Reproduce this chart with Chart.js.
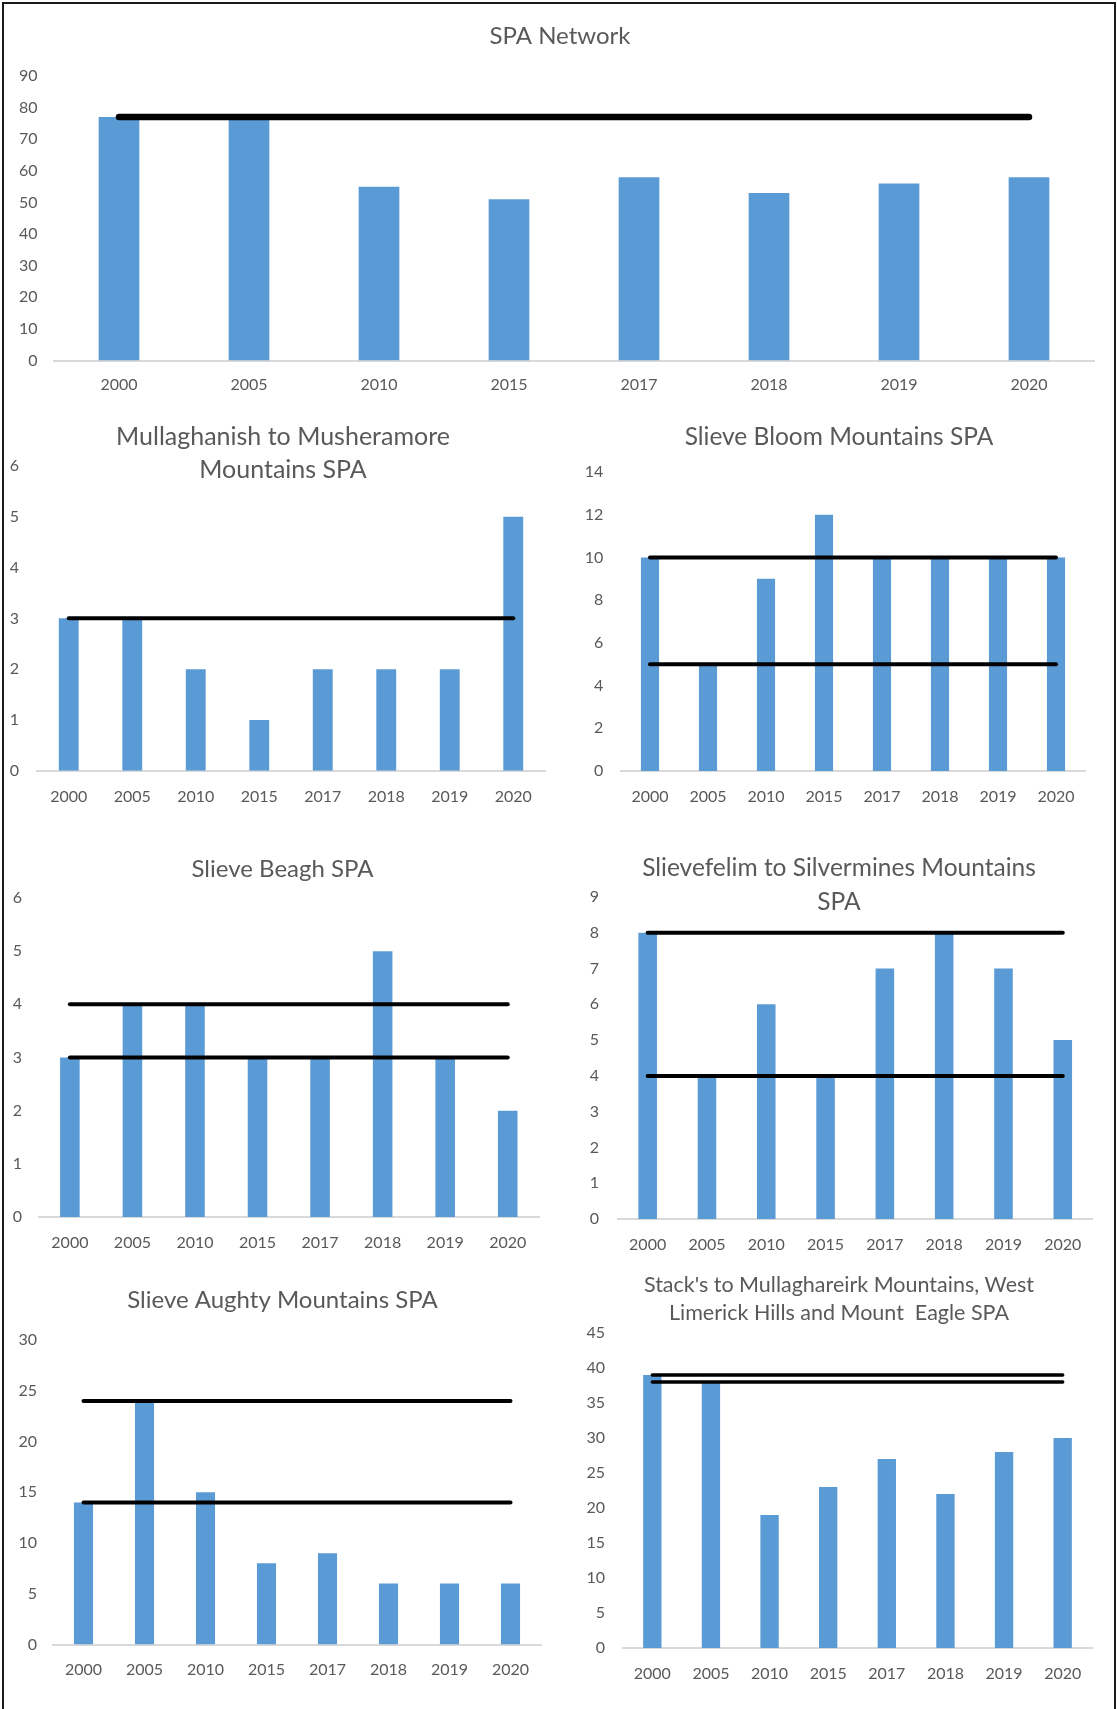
<!DOCTYPE html>
<html>
<head>
<meta charset="utf-8">
<title>SPA Network</title>
<script src="https://cdn.jsdelivr.net/npm/chart.js@4.4.1/dist/chart.umd.min.js"></script>
<style>
  html, body { margin: 0; padding: 0; background: #ffffff; }
  body { width: 1117px; height: 1709px; position: relative; overflow: hidden; }
  #frame {
    position: absolute; left: 2px; top: 2px; width: 1110px; height: 1720px;
    border-left: 2px solid #1a1a1a; border-top: 2px solid #1a1a1a; border-right: 2px solid #1a1a1a;
  }
  canvas { position: absolute; }
</style>
</head>
<body>
<div id="frame"></div>

<script>
// Survey years shared by every panel
const years = ['2000', '2005', '2010', '2015', '2017', '2018', '2019', '2020'];

// Counts per site, one value per survey year
const spaNetwork   = [77, 77, 55, 51, 58, 53, 56, 58];
const mullaghanish = [3, 3, 2, 1, 2, 2, 2, 5];
const slieveBloom  = [10, 5, 9, 12, 10, 10, 10, 10];
const slieveBeagh  = [3, 4, 4, 3, 3, 5, 3, 2];
const slievefelim  = [8, 4, 6, 4, 7, 8, 7, 5];
const slieveAughty = [14, 24, 15, 8, 9, 6, 6, 6];
const stacks       = [39, 38, 19, 23, 27, 22, 28, 30];

// Reference levels drawn as horizontal black lines
const spaNetworkLines   = [77];
const mullaghanishLines = [3];
const slieveBloomLines  = [10, 5];
const slieveBeaghLines  = [4, 3];
const slievefelimLines  = [8, 4];
const slieveAughtyLines = [24, 14];
const stacksLines       = [39, 38];

// Value axis ranges (max, step)
const spaNetworkAxis   = [90, 10];
const mullaghanishAxis = [6, 1];
const slieveBloomAxis  = [14, 2];
const slieveBeaghAxis  = [6, 1];
const slievefelimAxis  = [9, 1];
const slieveAughtyAxis = [30, 5];
const stacksAxis       = [45, 5];

// Panel titles (one entry per line)
const spaNetworkTitle   = ['SPA Network'];
const mullaghanishTitle = ['Mullaghanish to Musheramore', 'Mountains SPA'];
const slieveBloomTitle  = ['Slieve Bloom Mountains SPA'];
const slieveBeaghTitle  = ['Slieve Beagh SPA'];
const slievefelimTitle  = ['Slievefelim to Silvermines Mountains', 'SPA'];
const slieveAughtyTitle = ['Slieve Aughty Mountains SPA'];
const stacksTitle       = ["Stack's to Mullaghareirk Mountains, West", 'Limerick Hills and Mount  Eagle SPA'];

const FONT = 'Lato, "Open Sans", sans-serif';
const TEXT = '#595959';
const BAR = '#5B9BD5';

// Page geometry of each panel: canvas left/top/height, plot box, title and label placement
const panels = [
  { values: spaNetwork, lines: spaNetworkLines, axis: spaNetworkAxis, title: spaNetworkTitle,
    left: 4, top: 4, height: 400, plotX: [54, 1094], plotY: [76, 360.5],
    titleX: 560, titleY: 36, titleSize: 24, titleLH: 33, yPad: 16.5, xLabelY: 385, lineW: 6.5 },
  { values: mullaghanish, lines: mullaghanishLines, axis: mullaghanishAxis, title: mullaghanishTitle,
    left: 4, top: 405, height: 425, plotX: [37, 545], plotY: [466, 770.7],
    titleX: 283, titleY: 437, titleSize: 25, titleLH: 33, yPad: 18, xLabelY: 797, lineW: 4 },
  { values: slieveBloom, lines: slieveBloomLines, axis: slieveBloomAxis, title: slieveBloomTitle,
    left: 578, top: 405, height: 425, plotX: [621, 1085], plotY: [472, 771],
    titleX: 839, titleY: 437, titleSize: 24.5, titleLH: 33, yPad: 17.6, xLabelY: 797, lineW: 4 },
  { values: slieveBeagh, lines: slieveBeaghLines, axis: slieveBeaghAxis, title: slieveBeaghTitle,
    left: 4, top: 835, height: 430, plotX: [38.6, 539], plotY: [898, 1217],
    titleX: 282.5, titleY: 869, titleSize: 24, titleLH: 33, yPad: 16.6, xLabelY: 1243, lineW: 4 },
  { values: slievefelim, lines: slievefelimLines, axis: slievefelimAxis, title: slievefelimTitle,
    left: 580, top: 835, height: 430, plotX: [618, 1094], plotY: [897, 1219],
    titleX: 839, titleY: 868, titleSize: 24.5, titleLH: 34, yPad: 19, xLabelY: 1245, lineW: 4 },
  { values: slieveAughty, lines: slieveAughtyLines, axis: slieveAughtyAxis, title: slieveAughtyTitle,
    left: 4, top: 1270, height: 439, plotX: [53, 541], plotY: [1340, 1644.5],
    titleX: 282.5, titleY: 1300, titleSize: 24, titleLH: 33, yPad: 16, xLabelY: 1670, lineW: 4 },
  { values: stacks, lines: stacksLines, axis: stacksAxis, title: stacksTitle,
    left: 578, top: 1262, height: 447, plotX: [623, 1092], plotY: [1333, 1648],
    titleX: 839, titleY: 1285, titleSize: 21.5, titleLH: 28, yPad: 18, xLabelY: 1674, lineW: 3.5 }
];

const TICK_SIZE = 16;
const TICK_LH = TICK_SIZE * 1.2;

function drawPanel(p) {
  const L = p.left, T = p.top, H = p.height;
  // the canvas is as wide as the title box, so the title centres on titleX
  const W = 2 * (p.titleX - L);
  const cv = document.createElement('canvas');
  cv.width = W; cv.height = H;
  cv.style.left = L + 'px'; cv.style.top = T + 'px';
  cv.style.width = W + 'px'; cv.style.height = H + 'px';
  document.body.appendChild(cv);

  const yAxisWidth = p.plotX[0] - L;
  const rightGap = L + W - p.plotX[1];
  const titlePadTop = p.titleY - T - p.titleLH / 2;
  const titlePadBottom = p.plotY[0] - T - titlePadTop - p.title.length * p.titleLH;
  const xAxisHeight = T + H - p.plotY[1];
  const xTickPad = p.xLabelY - p.plotY[1] - TICK_LH / 2;

  const datasets = p.lines.map(v => ({
    type: 'line',
    data: years.map(() => v),
    borderColor: '#000000',
    borderWidth: p.lineW,
    borderCapStyle: 'round',
    pointRadius: 0,
    fill: false,
    order: 0
  }));
  datasets.push({
    type: 'bar',
    data: p.values,
    backgroundColor: BAR,
    borderWidth: 0,
    barPercentage: 0.313,
    categoryPercentage: 1,
    order: 1
  });

  new Chart(cv, {
    type: 'bar',
    data: { labels: years, datasets },
    options: {
      responsive: false,
      animation: false,
      devicePixelRatio: 1,
      layout: { padding: 0 },
      plugins: {
        legend: { display: false },
        tooltip: { enabled: false },
        title: {
          display: true,
          text: p.title,
          color: TEXT,
          font: { family: FONT, size: p.titleSize, weight: 'normal', lineHeight: p.titleLH + 'px' },
          padding: { top: titlePadTop, bottom: titlePadBottom }
        }
      },
      scales: {
        x: {
          offset: true,
          grid: { display: false, drawTicks: false },
          border: { display: true, color: '#d9d9d9', width: 2 },
          ticks: {
            color: TEXT, padding: xTickPad, autoSkip: false, maxRotation: 0,
            font: { family: FONT, size: TICK_SIZE, lineHeight: 1.2 }
          },
          afterFit: s => { s.height = xAxisHeight; }
        },
        y: {
          min: 0,
          max: p.axis[0],
          grid: { display: false, drawTicks: false },
          border: { display: false },
          ticks: {
            stepSize: p.axis[1], color: TEXT, padding: p.yPad,
            font: { family: FONT, size: TICK_SIZE, lineHeight: 1.2 }
          },
          afterFit: s => { s.width = yAxisWidth; }
        },
        // empty right-hand gutter between the plot and the edge of the title box
        gutter: {
          type: 'linear',
          position: 'right',
          grid: { display: false, drawTicks: false },
          border: { display: false },
          ticks: { display: false },
          afterFit: s => { s.width = rightGap; }
        }
      }
    }
  });
}

panels.forEach(drawPanel);
</script>
</body>
</html>
